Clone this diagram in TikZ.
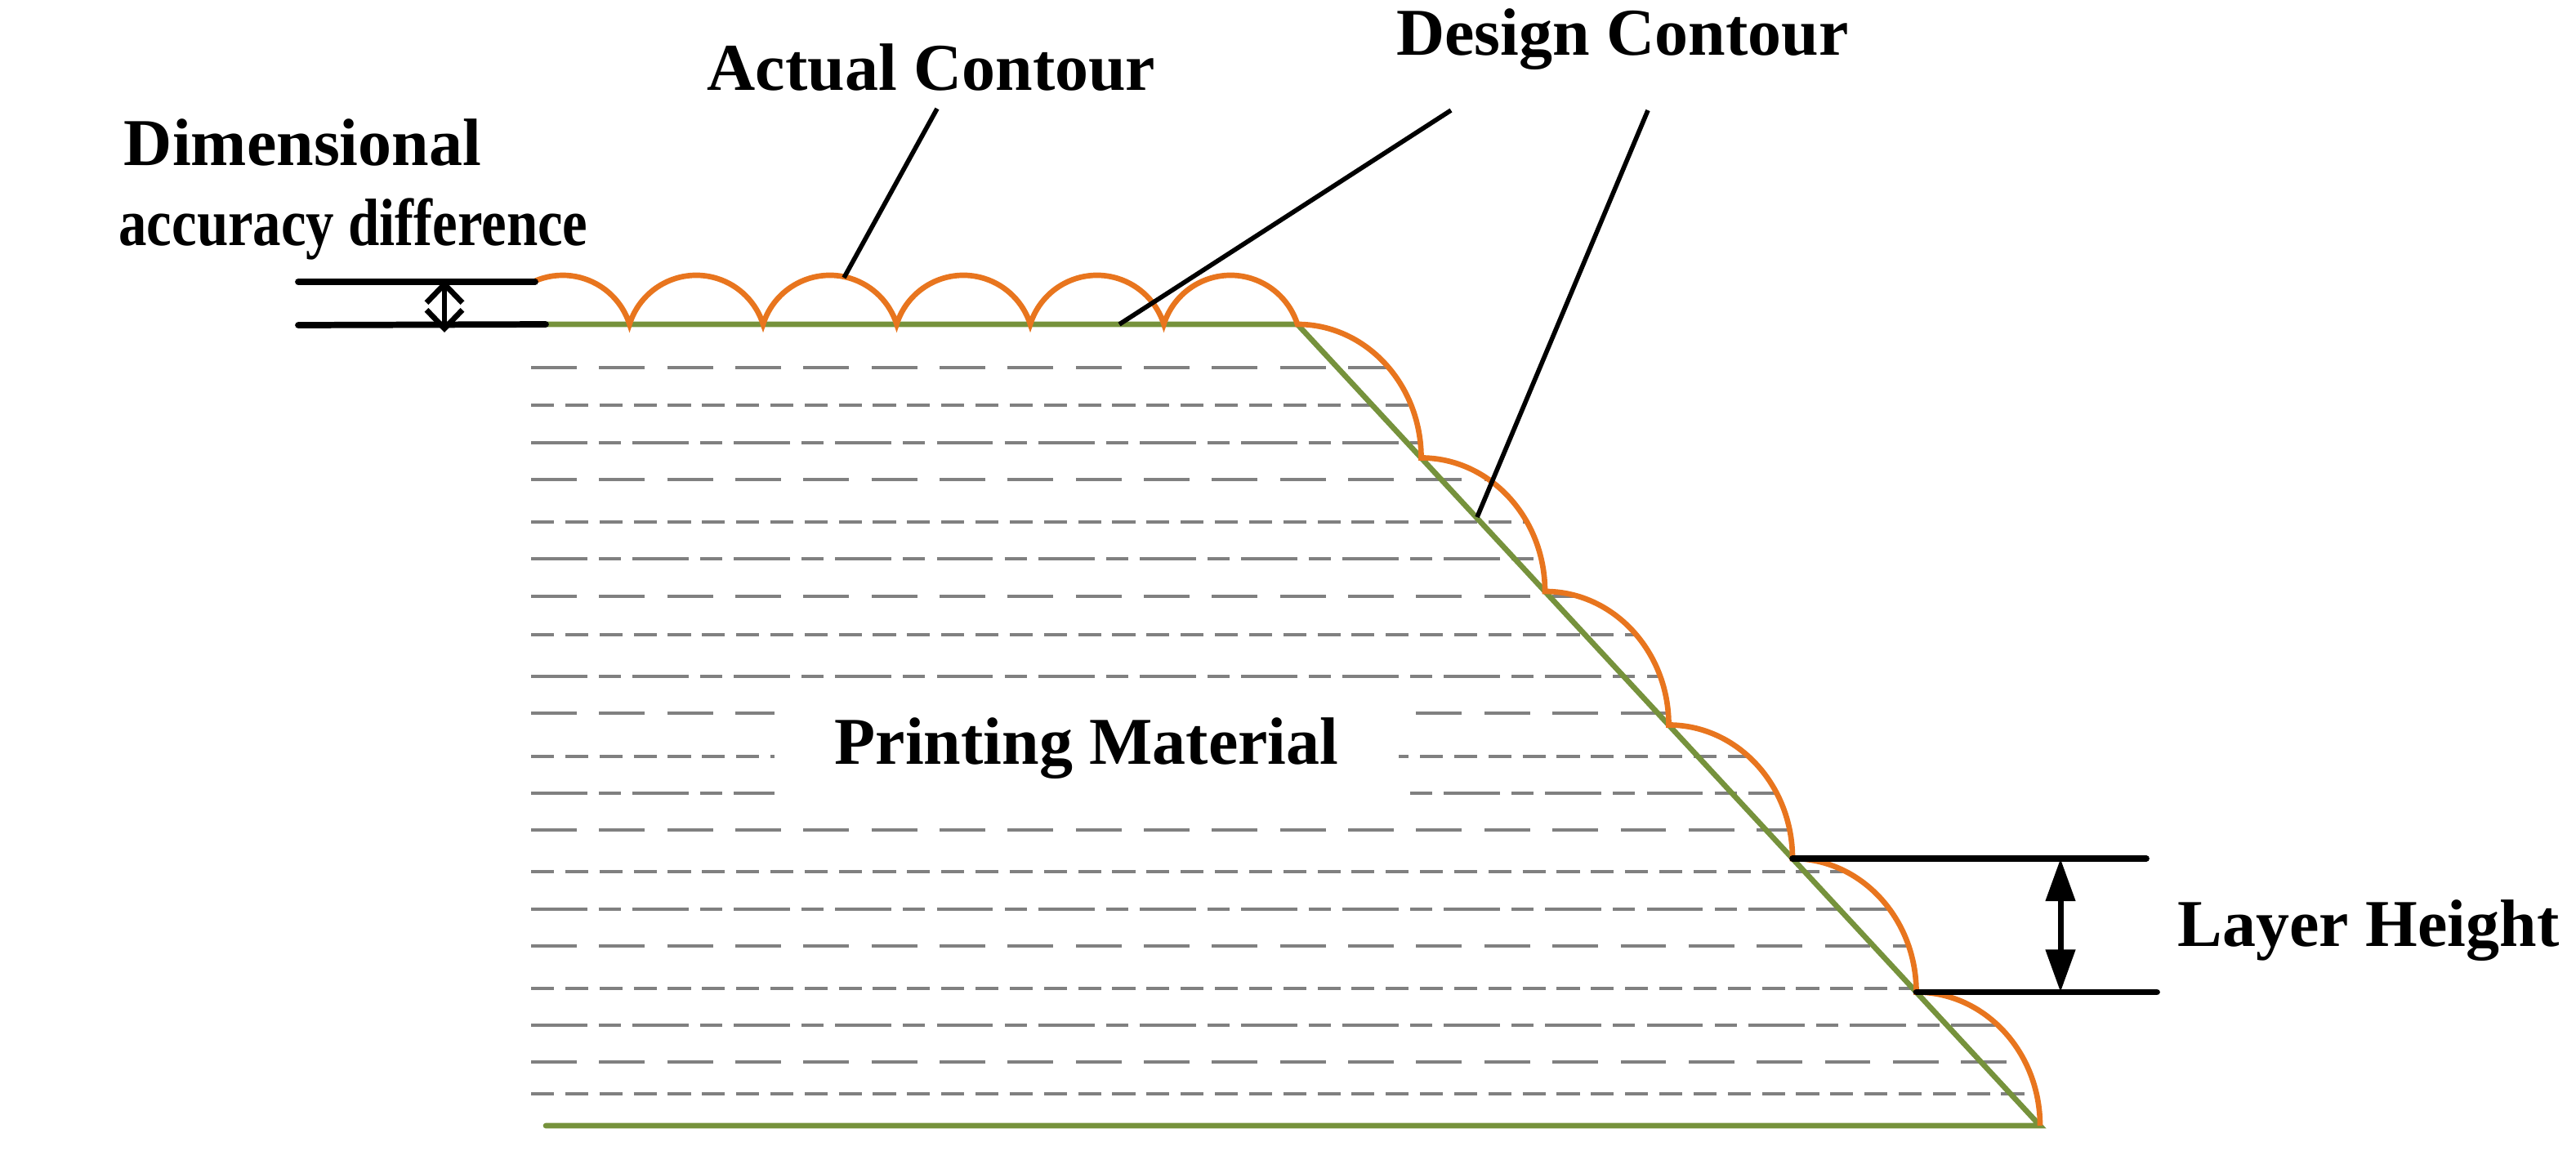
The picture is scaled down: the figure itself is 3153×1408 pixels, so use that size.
\documentclass[tikz,border=0pt]{standalone}
\usepackage{fontspec}
\setmainfont{Liberation Serif}
\usepackage{graphicx}
\usetikzlibrary{arrows.meta}
\definecolor{actual}{RGB}{232,117,30}
\definecolor{design}{RGB}{118,146,60}
\definecolor{hatch}{RGB}{128,128,128}
\begin{document}
\begin{tikzpicture}[x=0.01cm,y=0.01cm,
  lbl/.style={font=\fontsize{23.3}{28}\selectfont\bfseries, inner sep=0pt, anchor=base},
  dimline/.style={line width=2.2pt, line cap=round},
  leader/.style={line width=1.6pt},
  actualc/.style={draw=actual, line width=1.9pt},
  designc/.style={draw=design, line width=1.9pt, line cap=round},
  hA/.style={draw=hatch, line width=1.2pt, dash pattern=on 15.9pt off 7.8pt},
  hB/.style={draw=hatch, line width=1.2pt, dash pattern=on 8pt off 3.9pt},
  hC/.style={draw=hatch, line width=1.2pt, dash pattern=on 19.6pt off 4pt on 7.7pt off 4pt},
  qarc/.style={start angle=90, end angle=0, x radius=151.5, y radius=163.5},
  tarc/.style={start angle=162.55, end angle=17.45, radius=85.7}
]
\useasboundingbox (0,0) rectangle (3153,-1408);

% key points of the design contour
\coordinate (T0) at (668,-397);
\coordinate (C0) at (1588,-397);
\coordinate (C1) at (1739.5,-560.5);
\coordinate (C2) at (1891,-724);
\coordinate (C3) at (2042.5,-887.5);
\coordinate (C4) at (2194,-1051);
\coordinate (C5) at (2345.5,-1214.5);
\coordinate (C6) at (2497,-1378);
\coordinate (B0) at (668,-1378);

% hatching (printing material), clipped by the actual contour
\begin{scope}
  \clip (640,-397) -- (C0) arc[qarc] arc[qarc] arc[qarc] arc[qarc] arc[qarc] arc[qarc]
        -- (640,-1378) -- cycle;
  \foreach \yy/\st in {450/hA,496/hB,542/hC,587/hA,639/hB,684/hC,730/hA,777/hB,
                       828/hC,873/hA,926/hB,971/hC,1016/hA,1067/hB,1113/hC,
                       1158/hA,1210/hB,1255/hC,1300/hA,1339/hB}
    \draw[\st] (650,-\yy) -- (2600,-\yy);
\end{scope}

\node[lbl, fill=white, inner xsep=21pt, inner ysep=8pt] (mat) at (1330,-935) {Printing Material};

% design contour
\draw[designc] (T0) -- (C0) -- (C6) -- (B0);

% actual contour
\draw[actualc] (655,-343.9) arc[start angle=113.2, end angle=17.45, radius=85.7]
  arc[tarc] arc[tarc] arc[tarc] arc[tarc] arc[tarc]
  arc[qarc] arc[qarc] arc[qarc] arc[qarc] arc[qarc] arc[qarc];

% dimensional accuracy difference
\coordinate (d1a) at (365,-345);
\coordinate (d1b) at (655,-345);
\coordinate (d2a) at (365,-398);
\coordinate (d2b) at (T0);
\draw[dimline] (d1a) -- (d1b);
\draw[dimline] (d2a) -- (d2b);
\coordinate (da) at (544,-343);
\coordinate (db) at (544,-407);
\draw[line width=1.9pt, {Straight Barb[length=6.5pt,width=12.5pt]}-{Straight Barb[length=6.5pt,width=12.5pt]}] (da) -- (db);

% layer height
\coordinate (l1) at (2627,-1051);
\coordinate (l2) at (2640,-1214.5);
\draw[dimline] (C4) -- (l1);
\draw[dimline] (C5) -- (l2);
\coordinate (la) at (2522,-1051);
\coordinate (lb) at (2522,-1214.5);
\draw[line width=2pt, {Triangle[length=14.8pt,width=10pt]}-{Triangle[length=14.8pt,width=10pt]}] (la) -- (lb);

% leader lines
\coordinate (acA) at (1147,-133);
\coordinate (acB) at (1033,-340);
\coordinate (dcA) at (1776,-135);
\coordinate (dcB) at (1370,-397);
\coordinate (dcC) at (2017,-135);
\coordinate (dcD) at (1808,-633);
\draw[leader] (acA) -- (acB);
\draw[leader] (dcA) -- (dcB);
\draw[leader] (dcC) -- (dcD);

% labels
\node[lbl] (dim1) at (370.5,-202) {Dimensional};
\node[lbl] (dim2) at (432.5,-300) {\scalebox{0.84}[1]{accuracy difference}};
\node[lbl] (act) at (1140,-110) {Actual Contour};
\node[lbl] (des) at (1986,-67) {Design Contour};
\node[lbl] (lay) at (2899,-1158) {Layer Height};
\end{tikzpicture}
\end{document}
